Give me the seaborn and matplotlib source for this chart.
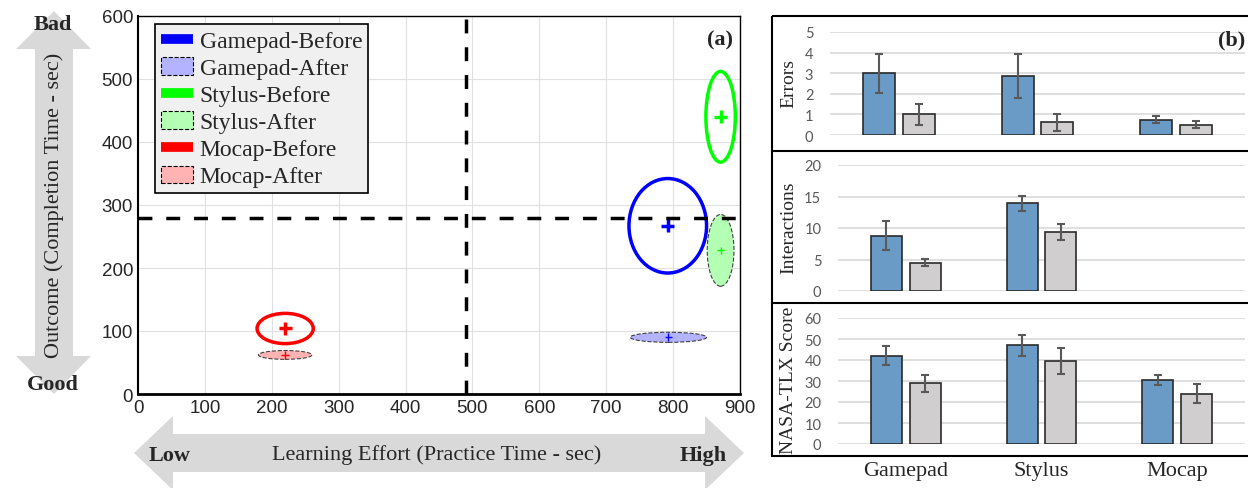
import numpy as np
import pandas as pd
import matplotlib
matplotlib.use("Agg")
import matplotlib.pyplot as plt
import seaborn as sns
from matplotlib.patches import Ellipse, Patch, Polygon, Rectangle
from matplotlib.lines import Line2D
from matplotlib.transforms import Affine2D

# 数据 (a): 椭圆中心与半轴
devices = ["Gamepad", "Stylus", "Mocap"]
before_x = [792, 871, 220]
before_y = [267, 440, 104]
before_rx = [58, 22, 42]
before_ry = [75, 72, 24]
after_x = [793, 871, 220]
after_y = [90, 228, 62]
after_rx = [57, 20, 40]
after_ry = [8, 57, 7]
effort_split = 490
outcome_split = 280

# 数据 (b): 柱状图
phases = ["Before", "After"]
errors_before = [3.0, 2.87, 0.75]
errors_after = [1.0, 0.62, 0.5]
errors_before_err = [0.95, 1.05, 0.15]
errors_after_err = [0.5, 0.42, 0.18]
inter_before = [8.8, 13.9, np.nan]
inter_after = [4.5, 9.4, np.nan]
inter_before_err = [2.3, 1.2, np.nan]
inter_after_err = [0.6, 1.3, np.nan]
tlx_before = [42.0, 47.0, 30.5]
tlx_after = [29.0, 39.5, 24.0]
tlx_before_err = [4.5, 5.0, 2.5]
tlx_after_err = [4.0, 6.3, 4.7]

strong = {"Gamepad": "#0000ff", "Stylus": "#00ff00", "Mocap": "#ff0000"}
light = {"Gamepad": "#b3b3ff", "Stylus": "#b3ffb3", "Mocap": "#ffb3b3"}
bar_colors = ["#5b9bd5", "#d0cece"]

sns.set_style("white")
plt.rcParams["font.family"] = ["Liberation Serif", "DejaVu Serif"]

W, H = 1248, 489
fig = plt.figure(figsize=(W / 100, H / 100), dpi=100)
# 像素坐标 (左上角为原点)
pix = Affine2D().scale(1 / W, -1 / H).translate(0, 1) + fig.transFigure

# ---------- (a) ----------
ax = fig.add_axes([138 / W, 1 - 395 / H, 602 / W, 378 / H])
ax.set_xlim(0, 900)
ax.set_ylim(0, 600)
ax.set_xticks(range(0, 901, 100))
ax.set_yticks(range(0, 601, 100))
ax.grid(True, color="#e0e0e0", lw=0.8)
ax.set_axisbelow(True)
for s in ax.spines.values():
    s.set_color("black")
    s.set_linewidth(1.0)
ax.spines["bottom"].set_linewidth(2)
ax.spines["left"].set_linewidth(1.5)
ax.tick_params(direction="in", length=5, width=1, labelsize=13.5, colors="black")
for lab in ax.get_xticklabels() + ax.get_yticklabels():
    lab.set_family("Liberation Sans")
    lab.set_color("#262626")

for i, d in enumerate(devices):
    ax.add_patch(Ellipse((after_x[i], after_y[i]), 2 * after_rx[i], 2 * after_ry[i],
                         facecolor=light[d], edgecolor="#404040", lw=0.8, ls="--", zorder=3))
    ax.add_patch(Ellipse((before_x[i], before_y[i]), 2 * before_rx[i], 2 * before_ry[i],
                         facecolor="none", edgecolor=strong[d], lw=2.5, zorder=4))

df_b = pd.DataFrame({"device": devices, "x": before_x, "y": before_y})
df_a = pd.DataFrame({"device": devices, "x": after_x, "y": after_y})
sns.scatterplot(data=df_b, x="x", y="y", hue="device", palette=strong, marker="+",
                s=90, linewidth=2.5, legend=False, ax=ax, zorder=5)
sns.scatterplot(data=df_a, x="x", y="y", hue="device", palette=strong, marker="+",
                s=30, linewidth=1, legend=False, ax=ax, zorder=5)

ax.axvline(effort_split, color="black", lw=2.5, ls=(0, (4, 4)), zorder=6)
ax.axhline(outcome_split, color="black", lw=2.5, ls=(0, (4, 4)), zorder=6)
ax.set_xlabel("")
ax.set_ylabel("")

handles, labels = [], []
for d in devices:
    handles.append(Line2D([0], [0], color=strong[d], lw=7, solid_capstyle="butt"))
    labels.append(d + "-Before")
    handles.append(Patch(facecolor=light[d], edgecolor="black", ls="--", lw=0.8))
    labels.append(d + "-After")
leg = ax.legend(handles, labels, loc="upper left", bbox_to_anchor=(0.028, 0.978),
                fontsize=17, frameon=True, fancybox=False, framealpha=1,
                facecolor="#f0f0f0", edgecolor="black", borderpad=0.25,
                labelspacing=0.22, handlelength=1.35, handleheight=0.75,
                handletextpad=0.3, borderaxespad=0)
leg.get_frame().set_linewidth(1.2)
fig.text(733, 40, "(a)", transform=pix, ha="right", va="center",
         fontsize=16, fontweight="bold")

# 箭头
gray = "#d9d9d9"
v_arrow = [(54, 12), (91, 50), (73, 50), (73, 357), (91, 357), (54, 395),
           (16, 357), (35, 357), (35, 50), (16, 50)]
h_arrow = [(134, 454), (173, 417), (173, 435), (705, 435), (705, 417), (744, 454),
           (705, 491), (705, 473), (173, 473), (173, 491)]
for pts in (v_arrow, h_arrow):
    fig.patches.append(Polygon(pts, closed=True, transform=pix, facecolor=gray,
                               edgecolor="none", zorder=0))
fig.text(54, 205, "Outcome (Completion Time - sec)", transform=pix, rotation=90,
         ha="center", va="center", fontsize=16)
fig.text(53, 25, "Bad", transform=pix, ha="center", va="center", fontsize=16, fontweight="bold")
fig.text(53, 385, "Good", transform=pix, ha="center", va="center", fontsize=16, fontweight="bold")
fig.text(437, 455, "Learning Effort (Practice Time - sec)", transform=pix,
         ha="center", va="center", fontsize=16)
fig.text(170, 456, "Low", transform=pix, ha="center", va="center", fontsize=16, fontweight="bold")
fig.text(703, 456, "High", transform=pix, ha="center", va="center", fontsize=16, fontweight="bold")

# ---------- (b) ----------
fig.patches.append(Rectangle((772, 17), 500, 440, transform=pix, facecolor="none",
                             edgecolor="black", lw=1.5, zorder=1))
for yy in (152, 304):
    fig.lines.append(Line2D([772, 1260], [yy, yy], transform=pix, color="black", lw=1.5))

panels = [
    ("Errors", errors_before, errors_after, errors_before_err, errors_after_err,
     [830, 136, 1245, 33], np.arange(0, 6, 1)),
    ("Interactions", inter_before, inter_after, inter_before_err, inter_after_err,
     [838, 292, 1245, 166], np.arange(0, 21, 5)),
    ("NASA-TLX Score", tlx_before, tlx_after, tlx_before_err, tlx_after_err,
     [838, 445, 1245, 319], np.arange(0, 61, 10)),
]
label_y = [84, 228, 380]
for k, (name, vb, va, eb, ea, box, yt) in enumerate(panels):
    l, b, r, t = box
    bx = fig.add_axes([l / W, 1 - b / H, (r - l) / W, (b - t) / H])
    df = pd.DataFrame({
        "device": devices * 2,
        "phase": ["Before"] * 3 + ["After"] * 3,
        "value": list(vb) + list(va),
    }).dropna()
    sns.barplot(data=df, x="device", y="value", hue="phase", order=devices,
                hue_order=phases, palette=bar_colors, width=0.573, gap=0.2,
                edgecolor="#2b2b2b", linewidth=1.2, errorbar=None, legend=False, ax=bx)
    errs = [eb, ea]
    bar_conts = list(bx.containers)
    for h, cont in enumerate(bar_conts):
        for bar in cont.patches:
            xc = bar.get_x() + bar.get_width() / 2
            ci = int(round(xc))
            if np.isnan(errs[h][ci]):
                continue
            bx.errorbar(xc, bar.get_height(), yerr=errs[h][ci], color="#595959",
                        lw=1.5, capsize=3, capthick=1.5, zorder=5)
    bx.set_xlim(-0.5, 2.5)
    bx.set_ylim(0, yt[-1])
    bx.set_yticks(yt)
    bx.grid(True, axis="y", color="#d9d9d9", lw=1.2)
    bx.set_axisbelow(True)
    for s in bx.spines.values():
        s.set_visible(False)
    bx.patch.set_alpha(0)
    bx.tick_params(axis="y", length=0, pad=12, labelsize=10.5, labelcolor="#595959")
    for lab in bx.get_yticklabels():
        lab.set_family("Lato")
    bx.set_xlabel("")
    bx.set_ylabel(name, fontsize=14)
    bx.yaxis.set_label_coords(797, label_y[k], transform=pix)
    if k < 2:
        bx.set_xticks([])
    else:
        bx.tick_params(axis="x", length=0, pad=12, labelsize=16)

fig.text(1245, 40, "(b)", transform=pix, ha="right", va="center",
         fontsize=16, fontweight="bold")

fig.savefig("out.png", dpi=100)
